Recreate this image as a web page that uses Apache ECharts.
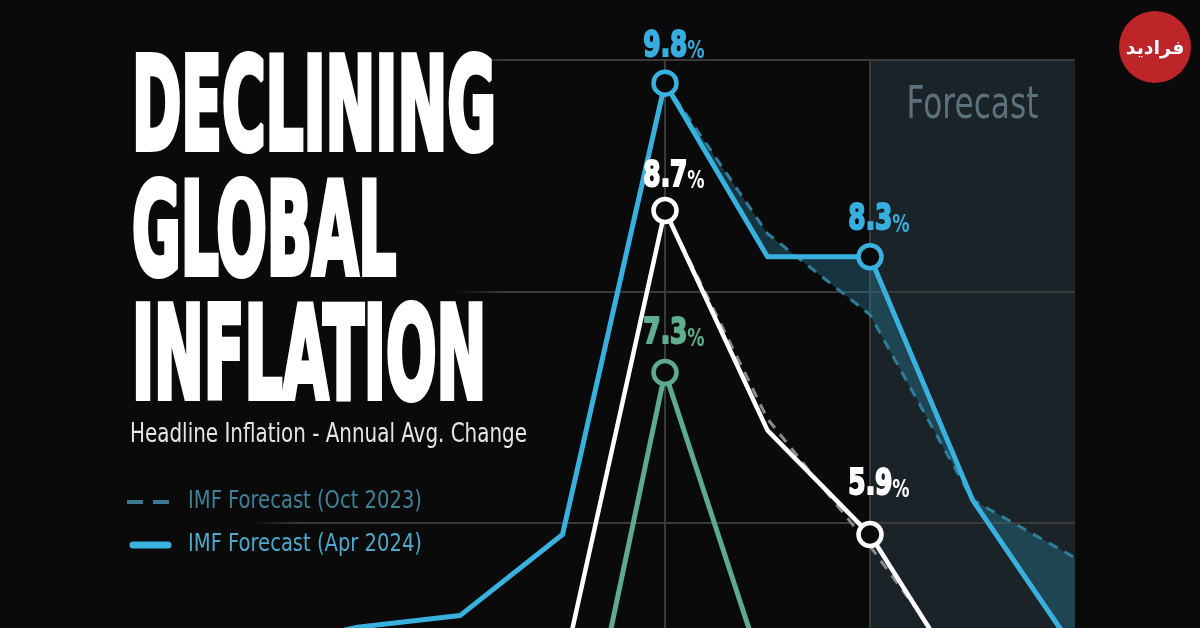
<!DOCTYPE html>
<html>
<head>
<meta charset="utf-8">
<script src="https://cdn.jsdelivr.net/npm/echarts@6/dist/echarts.min.js"></script>
<style>
html,body{margin:0;padding:0;background:#0a0a0b;}
#main{width:1200px;height:628px;}
</style>
</head>
<body>
<div id="main"></div>
<script>
// ---------- data ----------
const years = ['2018','2019','2020','2021','2022','2023','2024','2025','2026'];
const emdeApr2024 = [4.9, 5.1, 5.2, 5.9, 9.8, 8.3, 8.3, 6.2, 4.9];
const emdeOct2023 = [null, null, null, null, 9.8, 8.5, 7.8, 6.2, 5.7];
const worldApr2024 = [3.6, 3.5, 3.2, 4.7, 8.7, 6.8, 5.9, 4.5, 3.7];
const worldOct2023 = [null, null, null, null, 8.7, 6.9, 5.8, 4.6, null];
const advancedApr2024 = [2.0, 1.4, 0.7, 3.1, 7.3, 4.6, 2.6, 2.0, 2.0];
const yTicks = {min: 4, max: 10, interval: 2};
const forecastYears = ['2024', '2026'];
const gridYears = ['2022', '2024'];
const markerYears = ['2022', '2024'];
const titleLines = ['DECLINING', 'GLOBAL', 'INFLATION'];
const subtitle = 'Headline Inflation - Annual Avg. Change';
const legendItems = ['IMF Forecast (Oct 2023)', 'IMF Forecast (Apr 2024)'];
const forecastLabel = 'Forecast';

// ---------- styles ----------
const BG = '#0a0a0b';
const BLUE = '#38b1df';
const BLUE_DASH = '#2e7d99';
const WHITE = '#ffffff';
const GRAY_DASH = '#8a8a8a';
const GREEN = '#5dab8c';
const COND = '"DejaVu Sans Condensed", "DejaVu Sans", sans-serif';

// fill between the two EMDE forecasts (built from the arrays above)
const fillBase = emdeApr2024.map((v, i) => emdeOct2023[i] == null ? null : v);
const fillDiff = emdeApr2024.map((v, i) => emdeOct2023[i] == null ? null : +(emdeOct2023[i] - v).toFixed(2));

const measureCtx = document.createElement('canvas').getContext('2d');
function fitScale(text, font, target) {
  measureCtx.font = font;
  return target / measureCtx.measureText(text).width;
}

function markerSymbol(value, params) {
  return markerYears.indexOf(params.name) >= 0 ? 'circle' : 'none';
}

function solidSeries(name, data, color, width) {
  return {
    type: 'line', name: name, data: data, z: 4,
    symbol: markerSymbol, symbolSize: 23, showAllSymbol: true,
    lineStyle: {color: color, width: width, cap: 'round', join: 'round'},
    itemStyle: {color: BG, borderColor: color, borderWidth: 4.5},
    emphasis: {disabled: true}, silent: true
  };
}
function dashedSeries(name, data, color) {
  return {
    type: 'line', name: name, data: data, z: 3, symbol: 'none',
    lineStyle: {color: color, width: 3, type: [10, 8]},
    emphasis: {disabled: true}, silent: true
  };
}

const chart = echarts.init(document.getElementById('main'));

const option = {
  backgroundColor: BG,
  animation: false,
  grid: {left: 255, right: 125, top: 60, height: 694.5, containLabel: false, outerBoundsMode: 'none'},
  xAxis: {
    type: 'category', data: years, boundaryGap: false, z: 0,
    axisLine: {show: false}, axisTick: {show: false}, axisLabel: {show: false},
    splitLine: {show: true, interval: (i, v) => gridYears.indexOf(v) >= 0,
      lineStyle: {color: '#3a3a3a', width: 2}}
  },
  yAxis: {
    type: 'value', min: yTicks.min, max: yTicks.max, interval: yTicks.interval, z: 0,
    axisLine: {show: false}, axisTick: {show: false}, axisLabel: {show: false},
    splitLine: {show: true, lineStyle: {color: '#3a3a3a', width: 2}}
  },
  series: [
    {
      type: 'line', name: 'panel', data: [], z: -1, silent: true,
      markArea: {silent: true, z: -1, itemStyle: {color: '#1a2328'},
        data: [[{xAxis: forecastYears[0]}, {xAxis: forecastYears[1]}]]}
    },
    {
      type: 'line', name: 'gapBase', data: fillBase, stack: 'emdeGap', stackStrategy: 'all',
      symbol: 'none', lineStyle: {opacity: 0}, z: 2, silent: true
    },
    {
      type: 'line', name: 'gap', data: fillDiff, stack: 'emdeGap', stackStrategy: 'all',
      symbol: 'none', lineStyle: {opacity: 0}, z: 2, silent: true,
      areaStyle: {color: 'rgba(44,132,162,0.5)'}
    },
    solidSeries('Advanced Economies', advancedApr2024, GREEN, 5),
    dashedSeries('World (Oct 2023)', worldOct2023, GRAY_DASH),
    solidSeries('World', worldApr2024, WHITE, 4.5),
    dashedSeries('EMDE (Oct 2023)', emdeOct2023, BLUE_DASH),
    solidSeries('EMDE', emdeApr2024, BLUE, 5)
  ]
};
chart.setOption(option);

// ---------- text & decorations ----------
const graphics = [];

// fade grid lines under the title block
graphics.push({
  type: 'rect', z: 1, silent: true,
  shape: {x: 0, y: 0, width: 505, height: 310},
  style: {fill: new echarts.graphic.LinearGradient(0, 0, 1, 0, [
    {offset: 0, color: BG}, {offset: 0.9, color: BG}, {offset: 1, color: 'rgba(10,10,11,0)'}])}
});
graphics.push({
  type: 'rect', z: 1, silent: true,
  shape: {x: 250, y: 505, width: 50, height: 35},
  style: {fill: new echarts.graphic.LinearGradient(0, 0, 1, 0, [
    {offset: 0, color: BG}, {offset: 1, color: 'rgba(10,10,11,0)'}])}
});

// title
const titleFont = 'bold 128px ' + COND;
const titleScale = fitScale(titleLines[0], titleFont, 364);
titleLines.forEach((t, i) => {
  graphics.push({
    type: 'text', z: 10, silent: true, x: 132, y: 116 + i * 124.5, scaleX: titleScale,
    style: {text: t, font: titleFont, fill: WHITE, stroke: WHITE, lineWidth: 6,
      lineJoin: 'round', align: 'left', verticalAlign: 'middle'}
  });
});

// subtitle
const subFont = '26px ' + COND;
graphics.push({
  type: 'text', z: 10, silent: true, x: 130, y: 435, scaleX: fitScale(subtitle, subFont, 397),
  style: {text: subtitle, font: subFont, fill: '#e6e6e6', align: 'left', verticalAlign: 'middle'}
});

// legend
const legFont = '24px ' + COND;
graphics.push({
  type: 'line', z: 10, silent: true,
  shape: {x1: 127, y1: 502, x2: 171, y2: 502},
  style: {stroke: '#3a7b93', lineWidth: 4, lineDash: [16, 10]}
});
graphics.push({
  type: 'line', z: 10, silent: true,
  shape: {x1: 133, y1: 545, x2: 168, y2: 545},
  style: {stroke: BLUE, lineWidth: 7, lineCap: 'round'}
});
graphics.push({
  type: 'text', z: 10, silent: true, x: 188, y: 502, scaleX: fitScale(legendItems[0], legFont, 234),
  style: {text: legendItems[0], font: legFont, fill: '#3f8199', align: 'left', verticalAlign: 'middle'}
});
graphics.push({
  type: 'text', z: 10, silent: true, x: 188, y: 545, scaleX: fitScale(legendItems[1], legFont, 234),
  style: {text: legendItems[1], font: legFont, fill: '#4ea8ca', align: 'left', verticalAlign: 'middle'}
});

// forecast label centred in the forecast panel
const p0 = chart.convertToPixel({gridIndex: 0}, [forecastYears[0], yTicks.max]);
const p1 = chart.convertToPixel({gridIndex: 0}, [forecastYears[1], yTicks.max]);
const fcFont = '44px ' + COND;
graphics.push({
  type: 'text', z: 10, silent: true, x: (p0[0] + p1[0]) / 2, y: p0[1] + 47,
  scaleX: fitScale(forecastLabel, fcFont, 132),
  style: {text: forecastLabel, font: fcFont, fill: '#5b727c', align: 'center', verticalAlign: 'middle'}
});

// value labels at the marker points
const labelSets = [
  {values: emdeApr2024, color: '#36aee0', years: ['2022', '2024'], dy: [-37, -37]},
  {values: worldApr2024, color: WHITE, years: ['2022', '2024'], dy: [-34, -50]},
  {values: advancedApr2024, color: '#5fae8e', years: ['2022'], dy: [-39]}
];
const numFont = 'bold 36px ' + COND;
const numScale = fitScale('8.7', numFont, 44);
labelSets.forEach(set => {
  set.years.forEach((yr, k) => {
    const idx = years.indexOf(yr);
    const v = set.values[idx];
    const pt = chart.convertToPixel({gridIndex: 0}, [yr, v]);
    graphics.push({
      type: 'text', z: 10, silent: true, x: pt[0] + 9, y: pt[1] + set.dy[k], scaleX: numScale,
      style: {
        text: '{n|' + v.toFixed(1) + '}{p|%}', align: 'center', verticalAlign: 'middle',
        rich: {
          n: {fontFamily: COND, fontWeight: 'bold', fontSize: 36, lineHeight: 36, fill: set.color,
            stroke: set.color, lineWidth: 2, verticalAlign: 'bottom'},
          p: {fontFamily: COND, fontWeight: 'bold', fontSize: 25, lineHeight: 28, fill: set.color, verticalAlign: 'bottom'}
        }
      }
    });
  });
});

// logo badge
graphics.push({
  type: 'circle', z: 10, silent: true, shape: {cx: 1155, cy: 47, r: 36},
  style: {fill: '#be2529'}
});
graphics.push({
  type: 'text', z: 11, silent: true, x: 1155, y: 49,
  style: {text: 'فرادید', font: 'bold 19px "DejaVu Sans", sans-serif', fill: '#ffffff',
    align: 'center', verticalAlign: 'middle'}
});

chart.setOption({graphic: {elements: graphics}});
</script>
</body>
</html>
